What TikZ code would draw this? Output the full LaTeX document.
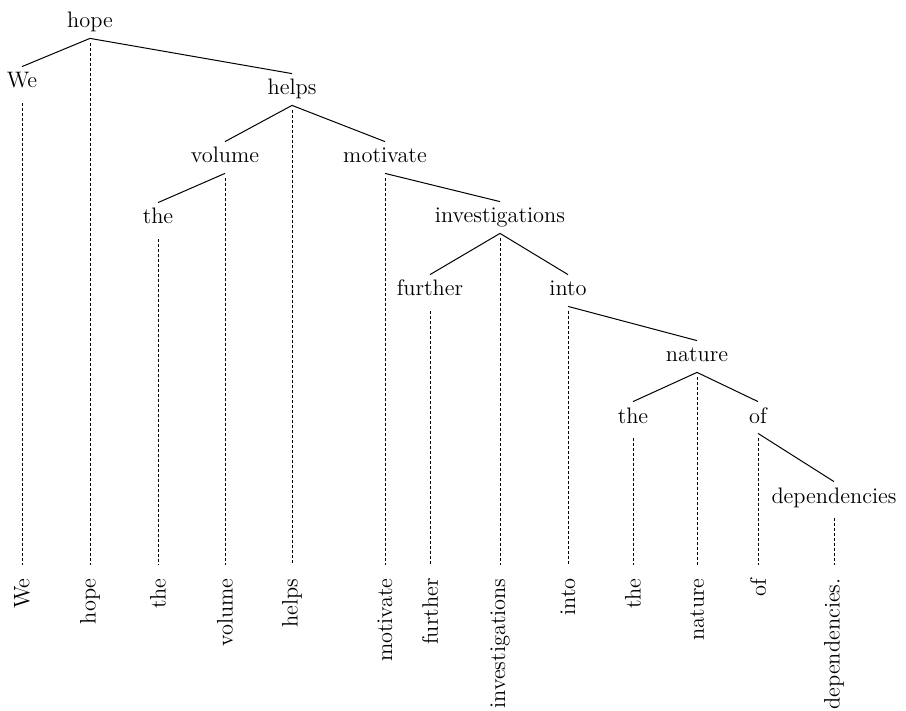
\documentclass[tikz,border=0pt]{standalone}
\begin{document}
\begin{tikzpicture}[
    x=0.5pt, y=-0.5pt,
    font=\fontsize{11.2}{13}\selectfont,
    word/.style={anchor=base, inner xsep=1pt, inner ysep=2.5pt, text height=8pt, text depth=2.5pt},
    token/.style={rotate=90, anchor=east, inner sep=0pt},
    dep/.style={line width=0.5pt},
    proj/.style={line width=0.4pt, dash pattern=on 1.5pt off 1pt, shorten <=2.5pt, shorten >=6.5pt}
]
\useasboundingbox (0,0) rectangle (906,711);

% Heads of the tree (top to bottom)
\node[word] (hope) at (90, 28) {hope};
\node[word] (we) at (22, 88) {We};
\node[word] (helps) at (292, 95) {helps};
\node[word] (volume) at (225, 163) {volume};
\node[word] (motivate) at (385, 163) {motivate};
\node[word] (the) at (158, 224) {the};
\node[word] (invest) at (500, 223) {investigations};
\node[word] (further) at (430, 296) {further};
\node[word] (into) at (568, 296) {into};
\node[word] (nature) at (697, 362) {nature};
\node[word] (theb) at (633, 423) {the};
\node[word] (of) at (758, 423) {of};
\node[word] (deps) at (834, 503) {dependencies};

% Sentence at the bottom
\node[token] (we-t) at (22, 578) {We};
\node[token] (hope-t) at (90, 578) {hope};
\node[token] (the-t) at (158, 578) {the};
\node[token] (volume-t) at (225, 578) {volume};
\node[token] (helps-t) at (292, 578) {helps};
\node[token] (motivate-t) at (385, 578) {motivate};
\node[token] (further-t) at (430, 578) {further};
\node[token] (invest-t) at (500, 578) {investigations};
\node[token] (into-t) at (568, 578) {into};
\node[token] (theb-t) at (633, 578) {the};
\node[token] (nature-t) at (697, 578) {nature};
\node[token] (of-t) at (758, 578) {of};
\node[token] (deps-t) at (834, 578) {dependencies.};

% Dependencies
\draw[dep] (hope.south) -- (we.north);
\draw[dep] (hope.south) -- (helps.north);
\draw[dep] (helps.south) -- (volume.north);
\draw[dep] (helps.south) -- (motivate.north);
\draw[dep] (volume.south) -- (the.north);
\draw[dep] (motivate.south) -- (invest.north);
\draw[dep] (invest.south) -- (further.north);
\draw[dep] (invest.south) -- (into.north);
\draw[dep] (into.south) -- (nature.north);
\draw[dep] (nature.south) -- (theb.north);
\draw[dep] (nature.south) -- (of.north);
\draw[dep] (of.south) -- (deps.north);

% Projection lines down to the words
\draw[proj] (we.south) -- (we.south |- we-t.east);
\draw[proj] (hope.south) -- (hope.south |- hope-t.east);
\draw[proj] (the.south) -- (the.south |- the-t.east);
\draw[proj] (volume.south) -- (volume.south |- volume-t.east);
\draw[proj] (helps.south) -- (helps.south |- helps-t.east);
\draw[proj] (motivate.south) -- (motivate.south |- motivate-t.east);
\draw[proj] (further.south) -- (further.south |- further-t.east);
\draw[proj] (invest.south) -- (invest.south |- invest-t.east);
\draw[proj] (into.south) -- (into.south |- into-t.east);
\draw[proj] (theb.south) -- (theb.south |- theb-t.east);
\draw[proj] (nature.south) -- (nature.south |- nature-t.east);
\draw[proj] (of.south) -- (of.south |- of-t.east);
\draw[proj] (deps.south) -- (deps.south |- deps-t.east);

\end{tikzpicture}
\end{document}
